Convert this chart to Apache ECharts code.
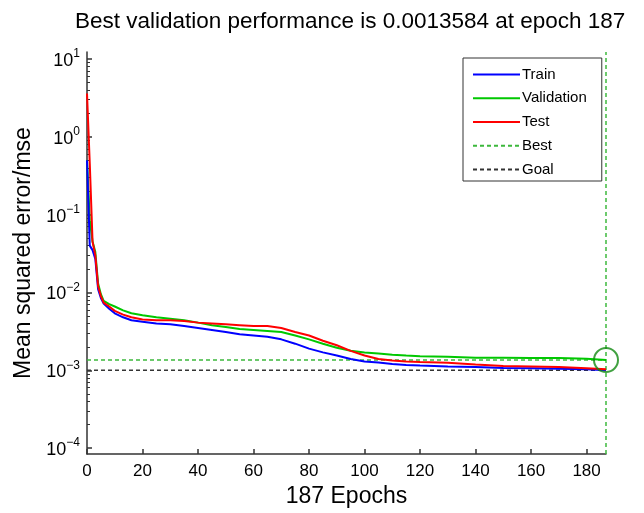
<!DOCTYPE html>
<html><head><meta charset="utf-8">
<script src="https://cdn.jsdelivr.net/npm/echarts@6/dist/echarts.min.js"></script>
<style>html,body{margin:0;padding:0;background:#fff}#c{width:644px;height:513px}</style>
</head><body><div id="c"></div>
<script>
const epochs   = [0, 1, 2, 3, 4, 5, 6, 8, 10, 13, 16, 20, 25, 30, 35, 40, 45, 50, 55, 60, 65, 70, 75, 80, 85, 90, 95, 100, 105, 110, 115, 120, 130, 140, 150, 160, 170, 180, 187];
const trainMSE = [0.5, 0.04, 0.035, 0.027, 0.011, 0.0085, 0.0072, 0.0062, 0.0054, 0.0048, 0.0044, 0.0042, 0.0040, 0.0039, 0.0037, 0.0035, 0.0033, 0.0031, 0.0029, 0.0028, 0.0027, 0.0025, 0.0022, 0.0019, 0.0017, 0.00155, 0.0014, 0.0013, 0.00126, 0.00121, 0.00117, 0.00115, 0.00112, 0.0011, 0.00107, 0.00106, 0.00105, 0.00103, 0.000999];
const valMSE   = [0.5, 0.085, 0.045, 0.033, 0.013, 0.0095, 0.0078, 0.0071, 0.0066, 0.0059, 0.0054, 0.0051, 0.0048, 0.0046, 0.0044, 0.0041, 0.0038, 0.0036, 0.0034, 0.0033, 0.0032, 0.0031, 0.0028, 0.0025, 0.0022, 0.00195, 0.00178, 0.0017, 0.00165, 0.00159, 0.00155, 0.00152, 0.00149, 0.00145, 0.00145, 0.00144, 0.00144, 0.00141, 0.0013584];
const testMSE  = [3.6, 0.45, 0.045, 0.03, 0.012, 0.009, 0.0074, 0.0066, 0.0058, 0.0052, 0.0048, 0.0045, 0.0044, 0.0044, 0.0043, 0.0041, 0.0040, 0.0039, 0.0038, 0.0037, 0.0037, 0.0035, 0.0031, 0.0028, 0.0024, 0.0021, 0.00178, 0.00155, 0.0014, 0.00134, 0.0013, 0.00128, 0.00125, 0.00119, 0.00114, 0.00112, 0.0011, 0.00106, 0.00103];
const bestEpoch = 187;
const bestPerf = 0.0013584;
const goalMSE = 0.001;
const xTicks = [0, 20, 40, 60, 80, 100, 120, 140, 160, 180];
const yMajorTicks = [1e-4, 1e-3, 1e-2, 1e-1, 1, 10];
const yMinorTicks = [];
for (let d = -4; d <= 0; d++) for (let m = 2; m <= 9; m++) yMinorTicks.push(m * Math.pow(10, d));
const yMin = Math.pow(10, -4.076);
const yMax = Math.pow(10, 1.089);

const FONT = 'Liberation Sans, Arial, Helvetica, sans-serif';
const AX = '#333';
const pairs = arr => epochs.map((e, i) => [e, arr[i]]);

const chart = echarts.init(document.getElementById('c'), null, {renderer: 'canvas'});
chart.setOption({
  animation: false,
  backgroundColor: '#fff',
  title: {
    text: 'Best validation performance is 0.0013584 at epoch 187',
    left: 70, top: 5,
    textStyle: {fontFamily: FONT, fontSize: 22.5, fontWeight: 'normal', color: '#000'}
  },
  legend: {
    orient: 'vertical', left: 463, top: 58,
    data: ['Train', 'Validation', 'Test', 'Best', 'Goal'],
    itemWidth: 47, itemHeight: 14, itemGap: 8.75,
    padding: [9, 15, 4, 9],
    borderColor: '#333', borderWidth: 1, backgroundColor: '#fff',
    itemStyle: {opacity: 0},
    textStyle: {fontFamily: FONT, fontSize: 15, color: '#000', padding: [0, 0, 0, -3]},
    selectedMode: false
  },
  grid: {left: 87, right: 38, top: 52, bottom: 53, containLabel: false},
  xAxis: {
    type: 'value', min: 0, max: bestEpoch,
    axisLine: {show: true, lineStyle: {color: AX, width: 1.5}},
    axisTick: {show: true, inside: true, length: 5, customValues: xTicks, lineStyle: {color: AX, width: 1.5}},
    axisLabel: {customValues: xTicks, fontFamily: FONT, fontSize: 17, color: '#000', margin: 9},
    splitLine: {show: false},
    name: '187 Epochs', nameLocation: 'middle', nameGap: 28,
    nameTextStyle: {fontFamily: FONT, fontSize: 23, color: '#000'}
  },
  yAxis: [{
    type: 'log', logBase: 10, min: yMin, max: yMax,
    axisLine: {show: true, lineStyle: {color: AX, width: 1.5}},
    axisTick: {show: true, inside: true, length: 5, customValues: yMajorTicks, lineStyle: {color: AX, width: 1.5}},
    axisLabel: {
      customValues: yMajorTicks, margin: 7,
      formatter: v => {
        const p = Math.round(Math.log10(v));
        return '{b|10}{s|' + (p < 0 ? '\u2212' + (-p) : String(p)) + '}';
      },
      rich: {
        b: {fontFamily: FONT, fontSize: 18, color: '#000', lineHeight: 22, verticalAlign: 'bottom'},
        s: {fontFamily: FONT, fontSize: 12, color: '#000', lineHeight: 12, verticalAlign: 'top'}
      }
    },
    splitLine: {show: false}, minorTick: {show: false},
    name: 'Mean squared error/mse', nameLocation: 'middle', nameGap: 50, nameRotate: 90,
    nameTextStyle: {fontFamily: FONT, fontSize: 23, color: '#000'}
  }, {
    type: 'log', logBase: 10, min: yMin, max: yMax, gridIndex: 0, position: 'left', offset: 0,
    axisLine: {show: false},
    axisTick: {show: true, inside: true, length: 3, customValues: yMinorTicks, lineStyle: {color: AX, width: 1}},
    axisLabel: {show: false}, splitLine: {show: false}
  }],
  series: [
    {name: 'Goal', type: 'line', data: [[0, goalMSE], [bestEpoch, goalMSE]], symbol: 'none',
     lineStyle: {color: '#333', width: 1.5, type: [4, 3]}, z: 1},
    {name: 'Best', type: 'line', data: [[0, bestPerf], [bestEpoch, bestPerf]], symbol: 'none',
     lineStyle: {color: '#3cb83c', width: 1.5, type: [4, 3]}, z: 1},
    {name: 'Best', type: 'line', data: [[bestEpoch, yMin], [bestEpoch, yMax]], symbol: 'none',
     lineStyle: {color: '#3cb83c', width: 1.5, type: [4, 3]}, z: 1},
    {name: 'Train', type: 'line', data: pairs(trainMSE), symbol: 'none',
     lineStyle: {color: '#0000ff', width: 2}, itemStyle: {color: '#0000ff'}, z: 3},
    {name: 'Validation', type: 'line', data: pairs(valMSE), symbol: 'none',
     lineStyle: {color: '#00c800', width: 2}, itemStyle: {color: '#00c800'}, z: 2},
    {name: 'Test', type: 'line', data: pairs(testMSE), symbol: 'none',
     lineStyle: {color: '#ff0000', width: 2}, itemStyle: {color: '#ff0000'}, z: 4},
    {name: 'BestPoint', type: 'scatter', data: [[bestEpoch, bestPerf]], symbol: 'circle', symbolSize: 24,
     itemStyle: {color: 'rgba(0,0,0,0)', borderColor: '#128a12', borderWidth: 2}, z: 5, silent: true}
  ]
});
</script>
</body></html>
